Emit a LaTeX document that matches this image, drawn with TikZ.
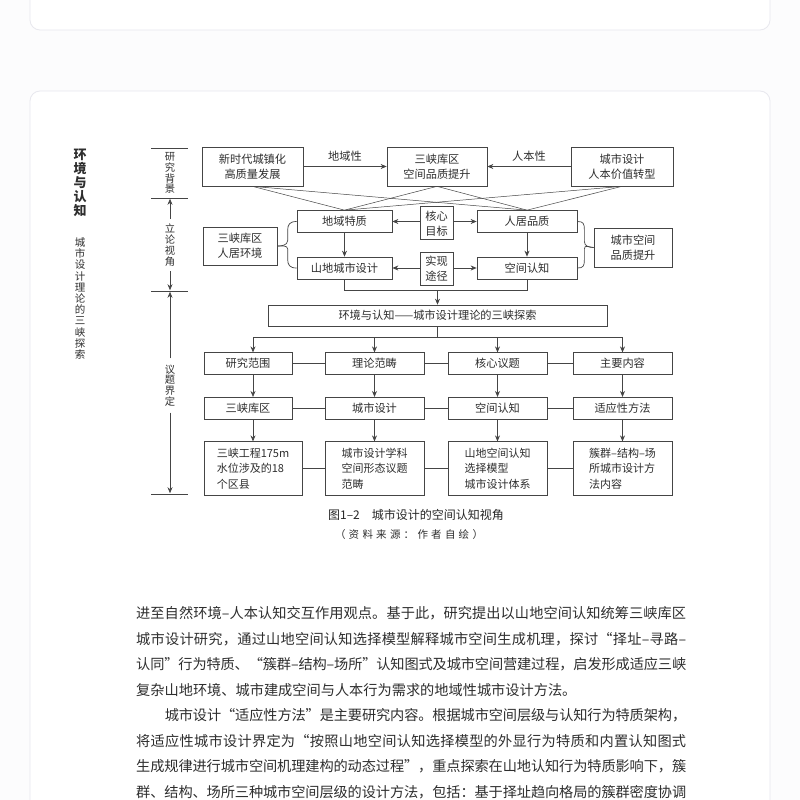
\documentclass[tikz,border=0pt]{standalone}
\usepackage{fontspec}
\setmainfont{Noto Sans CJK SC}
\usetikzlibrary{arrows.meta,calc}
\definecolor{cardline}{HTML}{E8E8EE}
\definecolor{pagebg}{HTML}{FCFCFD}
\definecolor{ink}{HTML}{2E2E2E}
\definecolor{boxline}{HTML}{454545}
\newcommand{\bodyfont}{\fontsize{14.2}{16}\selectfont}
\def\spreadchars#1{#1\spreadrest}
\def\spreadrest#1{\ifx#1\relax\else\hskip 0pt plus 1fil minus 1pt #1\expandafter\spreadrest\fi}
\tikzset{
  box/.style={draw=boxline, line width=0.7pt, text=ink, font=\fontsize{11.2}{15}\selectfont, align=center, inner sep=0pt},
  lbox/.style={box, align=left, font=\fontsize{11}{15.5}\selectfont},
  conn/.style={draw=boxline, line width=0.7pt},
  arr/.style={conn, -{Stealth[length=6pt,width=5pt]}},
  cross/.style={draw=boxline, line width=0.5pt},
  vlab/.style={text=ink, font=\fontsize{10.3}{10.8}\selectfont, align=center, inner sep=0pt},
  bodyline/.style={anchor=west, inner sep=0pt, text=ink, font=\bodyfont},
}
\begin{document}
\begin{tikzpicture}[x=1pt,y=-1pt]
\useasboundingbox (0,0) rectangle (800,800);
\clip (0,0) rectangle (800,800);
\fill[pagebg] (0,0) rectangle (800,800);
% cards
\draw[cardline, fill=white, rounded corners=10pt, line width=0.8pt] (30,-30) rectangle (770,30);
\draw[cardline, fill=white, rounded corners=10pt, line width=0.8pt] (30,91) rectangle (770,860);

% left title
\node[text=ink, font=\fontsize{13}{14}\selectfont\bfseries, align=center, inner sep=0pt] (ttl) at (80,183) {环\\境\\与\\认\\知};
\node[text=ink, font=\fontsize{10.5}{11.2}\selectfont, align=center, inner sep=0pt] (sub) at (80,298.5) {城\\市\\设\\计\\理\\论\\的\\三\\峡\\探\\索};

% scale
\foreach \yy in {148,198,291,494} \draw[conn] (151,\yy) -- (188,\yy);
\node[vlab] (s1) at (170,173) {研\\究\\背\\景};
\node[vlab] (s2) at (170,245) {立\\论\\视\\角};
\node[vlab] (s3) at (170,385.5) {议\\题\\界\\定};
\draw[arr] (s2.north) ++(0,-5) -- (170,198.8);
\draw[arr] (s2.south) ++(0,5) -- (170,290.2);
\draw[arr] (s3.north) ++(0,-6) -- (170,291.8);
\draw[arr] (s3.south) ++(0,6) -- (170,493.2);

% row 1
\node[box, minimum width=101pt, minimum height=39pt] (A) at (252.5,166.5) {新时代城镇化\\高质量发展};
\node[box, minimum width=100pt, minimum height=39pt] (B) at (437,166.5) {三峡库区\\空间品质提升};
\node[box, minimum width=102pt, minimum height=39pt] (C) at (622,166.5) {城市设计\\人本价值转型};
\draw[arr] (A.east) -- node[above=1pt, text=ink, font=\fontsize{11.2}{13}\selectfont] {地域性} (B.west);
\draw[arr] (C.west) -- node[above=1pt, text=ink, font=\fontsize{11.2}{13}\selectfont] {人本性} (B.east);

% core
\node[box, minimum width=95pt, minimum height=22pt] (dyz) at (344.5,221.5) {地域特质};
\node[box, minimum width=33pt, minimum height=33pt] (hxmb) at (436.5,223.3) {核心\\目标};
\node[box, minimum width=100pt, minimum height=22pt] (jjpz) at (527,221.5) {人居品质};
\node[box, minimum width=95pt, minimum height=22pt] (sdcs) at (344.5,268) {山地城市设计};
\node[box, minimum width=33pt, minimum height=33pt] (sxtj) at (436.5,269) {实现\\途径};
\node[box, minimum width=100pt, minimum height=22pt] (kjrz) at (527,268) {空间认知};
\node[box, minimum width=74pt, minimum height=38pt] (sxkq) at (240,246) {三峡库区\\人居环境};
\node[box, minimum width=78pt, minimum height=39pt] (cskj) at (633,247.5) {城市空间\\品质提升};

\foreach \s in {A,B,C} {
  \draw[cross] (\s.south) -- (dyz.north);
  \draw[cross] (\s.south) -- (jjpz.north);
}
\draw[arr] (dyz.east -| hxmb.west) -- (dyz.east);
\draw[arr] (jjpz.west -| hxmb.east) -- (jjpz.west);
\draw[arr] (sdcs.east -| sxtj.west) -- (sdcs.east);
\draw[arr] (kjrz.west -| sxtj.east) -- (kjrz.west);
\draw[arr] (dyz.south) -- (sdcs.north);
\draw[arr] (jjpz.south) -- (kjrz.north);

% braces
\draw[conn] (dyz.west) .. controls +(-7,0) and +(0,-6) .. ++(-9,9) -- ++(0,10) .. controls +(0,5) and +(4,0) .. (sxkq.east);
\draw[conn] (sdcs.west) .. controls +(-7,0) and +(0,6) .. ++(-9,-9) -- ++(0,-10) .. controls +(0,-4) and +(4,0) .. (sxkq.east);
\draw[conn] (jjpz.east) .. controls +(6,0) and +(0,-6) .. ++(7,8) -- ++(0,12) .. controls +(0,5) and +(-4,0) .. (cskj.west);
\draw[conn] (kjrz.east) .. controls +(6,0) and +(0,6) .. ++(7,-8) -- ++(0,-11) .. controls +(0,-5) and +(-4,0) .. (cskj.west);

% big box
\node[box, minimum width=339pt, minimum height=21pt] (big) at (437.5,315.5) {环境与认知——城市设计理论的三峡探索};
\coordinate (jl) at ($(sdcs.south)+(0,11)$);
\coordinate (jr) at ($(kjrz.south)+(0,11)$);
\draw[conn] (sdcs.south) -- (jl) -- (jr) -- (kjrz.south);
\draw[arr] (jl -| big.north) -- (big.north);

% columns
\node[box, minimum width=88pt, minimum height=21.5pt] (r11) at (248,363.5) {研究范围};
\node[box, minimum width=99pt, minimum height=21.5pt] (r12) at (374.5,363.5) {理论范畴};
\node[box, minimum width=99pt, minimum height=21.5pt] (r13) at (497.5,363.5) {核心议题};
\node[box, minimum width=99pt, minimum height=21.5pt] (r14) at (622.5,363.5) {主要内容};
\node[box, minimum width=88pt, minimum height=22pt] (r21) at (248,408.3) {三峡库区};
\node[box, minimum width=99pt, minimum height=22pt] (r22) at (374.5,408.3) {城市设计};
\node[box, minimum width=99pt, minimum height=22pt] (r23) at (497.5,408.3) {空间认知};
\node[box, minimum width=99pt, minimum height=22pt] (r24) at (622.5,408.3) {适应性方法};
\node[lbox, minimum width=98pt, minimum height=53.5pt] (r31) at (253,468.5) {三峡工程175m\\水位涉及的18\\个区县};
\node[lbox, minimum width=99pt, minimum height=53.5pt] (r32) at (374.5,468.5) {城市设计学科\\空间形态议题\\范畴};
\node[lbox, minimum width=99pt, minimum height=53.5pt] (r33) at (497.5,468.5) {山地空间认知\\选择模型\\城市设计体系};
\node[lbox, minimum width=99pt, minimum height=53.5pt] (r34) at (622.5,468.5) {簇群–结构–场\\所城市设计方\\法内容};

\coordinate (hb) at ($(big.south)+(0,11)$);
\draw[conn] (big.south) -- (hb);
\draw[conn] (hb -| r31.north) -- (hb -| r14.north);
\draw[arr] (hb -| r31.north) -- (r31.north |- r11.north);
\draw[arr] (hb -| r12.north) -- (r12.north);
\draw[arr] (hb -| r13.north) -- (r13.north);
\draw[arr] (hb -| r14.north) -- (r14.north);
\draw[arr] (r31.north |- r11.south) -- (r31.north |- r21.north);
\draw[arr] (r31.north |- r21.south) -- (r31.north);
\foreach \c in {2,3,4} {
  \draw[arr] (r1\c.south) -- (r2\c.north);
  \draw[arr] (r2\c.south) -- (r3\c.north);
}
\foreach \r in {1,2,3} {
  \draw[conn] (r\r1.east) -- (r\r2.west);
  \draw[conn] (r\r2.east) -- (r\r3.west);
  \draw[conn] (r\r3.east) -- (r\r4.west);
}

% caption
\node[text=black!85, font=\fontsize{12}{13}\selectfont, inner sep=0pt] (cap) at (416,514.5) {图1–2\hspace{1em}城市设计的空间认知视角};
\node[text=ink, font=\fontsize{10.5}{12}\selectfont, inner sep=0pt] (src) at (409,535) {\makebox[148pt][s]{\spreadchars（资料来源：作者自绘）\relax}};

% body text
\node[bodyline] (t1) at (136,613.5) {\makebox[550pt][s]{\spreadchars 进至自然环境–人本认知交互作用观点。基于此，研究提出以山地空间认知统筹三峡库区\relax}};
\node[bodyline] (t2) at (136,639) {\makebox[550pt][s]{\spreadchars 城市设计研究，通过山地空间认知选择模型解释城市空间生成机理，探讨“择址–寻路–\relax}};
\node[bodyline] (t3) at (136,664.5) {\makebox[550pt][s]{\spreadchars 认同”行为特质、“簇群–结构–场所”认知图式及城市空间营建过程，启发形成适应三峡\relax}};
\node[bodyline] (t4) at (136,690) {复杂山地环境、城市建成空间与人本行为需求的地域性城市设计方法。};
\node[bodyline] (t5) at (136,715.5) {\makebox[550pt][s]{\hspace{28.6pt}\spreadchars 城市设计“适应性方法”是主要研究内容。根据城市空间层级与认知行为特质架构，\relax}};
\node[bodyline] (t6) at (136,741) {\makebox[550pt][s]{\spreadchars 将适应性城市设计界定为“按照山地空间认知选择模型的外显行为特质和内置认知图式\relax}};
\node[bodyline] (t7) at (136,766.5) {\makebox[550pt][s]{\spreadchars 生成规律进行城市空间机理建构的动态过程”，重点探索在山地认知行为特质影响下，簇\relax}};
\node[bodyline] (t8) at (136,792) {\makebox[550pt][s]{\spreadchars 群、结构、场所三种城市空间层级的设计方法，包括：基于择址趋向格局的簇群密度协调\relax}};
\end{tikzpicture}
\end{document}
